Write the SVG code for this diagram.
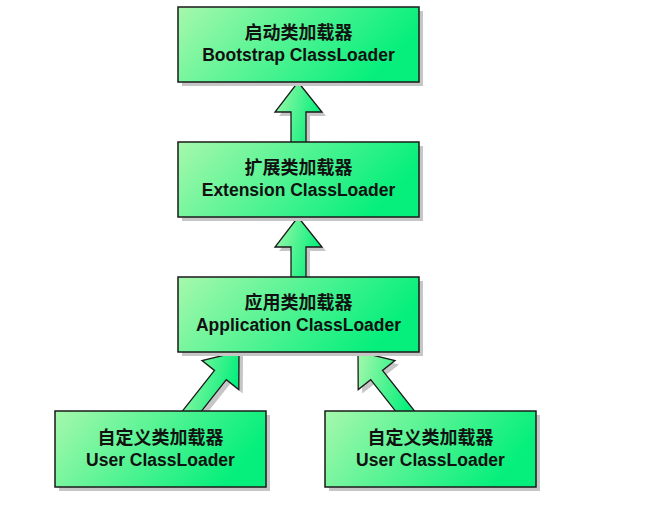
<svg xmlns="http://www.w3.org/2000/svg" xmlns:xlink="http://www.w3.org/1999/xlink" width="652" height="511" viewBox="0 0 652 511">
<defs>
<linearGradient id="g" x1="0" y1="0" x2="1" y2="0.3">
<stop offset="0" stop-color="#a6f8ac"/>
<stop offset="1" stop-color="#06ef7c"/>
</linearGradient>
<style>
.box{fill:url(#g);stroke:#1a1a1a;stroke-width:1.5}
.sh{fill:#c6c6c6}
.arr{fill:url(#g);stroke:#1a1a1a;stroke-width:1.3;stroke-linejoin:miter}
.cn{font-family:"Liberation Sans","Noto Sans CJK SC",sans-serif;font-weight:bold;font-size:18px;fill:#111;text-anchor:middle}
.en{font-family:"Liberation Sans","Noto Sans CJK SC",sans-serif;font-weight:bold;font-size:17.5px;fill:#111;text-anchor:middle}
</style>
<polygon id="a1" points="298,82 322,112 306,112 306,143 291,143 291,112 275,112"/>
<polygon id="a2" points="298,217 322,247 306,247 306,278 291,278 291,247 275,247"/>
<polygon id="a3" points="239,351.5 238.8,389.6 226.3,379.7 191.6,423.6 179.8,414.4 214.5,370.4 202,360.5"/>
<polygon id="a4" points="358,351.5 358.2,389.6 370.7,379.7 405.4,423.6 417.2,414.4 382.5,370.4 395,360.5"/>
</defs>
<rect width="652" height="511" fill="#ffffff"/>
<g id="connectors">
<use xlink:href="#a1" class="sh" transform="translate(4,4)"/>
<use xlink:href="#a2" class="sh" transform="translate(4,4)"/>
<use xlink:href="#a3" class="sh" transform="translate(4,4)"/>
<use xlink:href="#a4" class="sh" transform="translate(4,4)"/>
<use xlink:href="#a1" class="arr"/>
<use xlink:href="#a2" class="arr"/>
<use xlink:href="#a3" class="arr"/>
<use xlink:href="#a4" class="arr"/>
</g>
<g id="bootstrap">
<rect class="sh" x="182" y="11" width="241" height="75"/>
<rect class="box" x="178" y="7" width="241" height="75"/>
<text class="cn" x="298.5" y="39">启动类加载器</text>
<text class="en" x="298.5" y="61">Bootstrap ClassLoader</text>
</g>
<g id="extension">
<rect class="sh" x="182" y="146" width="241" height="75"/>
<rect class="box" x="178" y="142" width="241" height="75"/>
<text class="cn" x="298.5" y="174">扩展类加载器</text>
<text class="en" x="298.5" y="196">Extension ClassLoader</text>
</g>
<g id="application">
<rect class="sh" x="182" y="281" width="241" height="75"/>
<rect class="box" x="178" y="277" width="241" height="75"/>
<text class="cn" x="298.5" y="309">应用类加载器</text>
<text class="en" x="298.5" y="331">Application ClassLoader</text>
</g>
<g id="user1">
<rect class="sh" x="59" y="415" width="211" height="76"/>
<rect class="box" x="55" y="411" width="211" height="76"/>
<text class="cn" x="160.5" y="444">自定义类加载器</text>
<text class="en" x="160.5" y="466">User ClassLoader</text>
</g>
<g id="user2">
<rect class="sh" x="329" y="415" width="211" height="76"/>
<rect class="box" x="325" y="411" width="211" height="76"/>
<text class="cn" x="430.5" y="444">自定义类加载器</text>
<text class="en" x="430.5" y="466">User ClassLoader</text>
</g>
</svg>
